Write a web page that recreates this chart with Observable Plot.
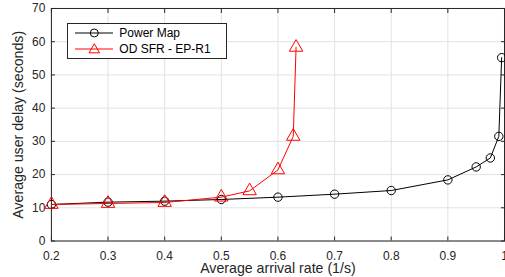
<!DOCTYPE html>
<html><head><meta charset="utf-8">
<script src="https://cdn.jsdelivr.net/npm/d3@7"></script>
<script src="https://cdn.jsdelivr.net/npm/@observablehq/plot@0.6"></script>
<style>
html,body{margin:0;padding:0;background:#fff;overflow:hidden;width:505px;height:277px}
#wrap{position:relative;width:505px;height:277px;overflow:hidden}
#legend{position:absolute;left:67px;top:23px;width:158px;height:34px;border:1px solid #262626;background:#fff;font-family:"Liberation Sans",Arial,sans-serif;font-size:12px;color:#000}
</style></head>
<body><div id="wrap"></div>
<script>
const xTicks = [0.2,0.3,0.4,0.5,0.6,0.7,0.8,0.9,1];
const yTicks = [0,10,20,30,40,50,60,70];
const seriesNames = ["Power Map","OD SFR - EP-R1"];
const powerX = [0.2,0.3,0.4,0.5,0.6,0.7,0.8,0.9,0.95,0.975,0.99,0.995];
const powerY = [11,11.7,12,12.5,13.2,14.1,15.2,18.4,22.3,25,31.5,55.2];
const odX = [0.2,0.3,0.4,0.5,0.55,0.6,0.627,0.632];
const odY = [11,11.3,11.6,13.2,15.1,21.4,31.5,58.3];
const xLabel = "Average arrival rate (1/s)";
const yLabel = "Average user delay (seconds)";

const power = powerX.map((x,i)=>({x, y: powerY[i]}));
const od = odX.map((x,i)=>({x, y: odY[i]}));
const font = '"Liberation Sans", Arial, sans-serif';
const ink = "#262626";

const chart = Plot.plot({
  width: 506, height: 277,
  marginLeft: 51, marginRight: 1, marginTop: 8, marginBottom: 36,
  style: {fontFamily: font, fontSize: "12px", color: ink, background: "#fff"},
  x: {domain: [0.2, 1], ticks: xTicks},
  y: {domain: [0, 70], ticks: yTicks},
  marks: [
    Plot.ruleX(xTicks, {stroke: "#e2e2e2", strokeWidth: 1}),
    Plot.ruleY(yTicks, {stroke: "#e2e2e2", strokeWidth: 1}),
    Plot.axisX(xTicks, {anchor: "bottom", tickSize: 0, tickPadding: 10, tickFormat: d => String(d), fontSize: 12, fill: ink, label: null}),
    Plot.axisX(xTicks, {anchor: "bottom", tickSize: -4, stroke: ink, tickFormat: () => "", label: null}),
    Plot.axisX(xTicks, {anchor: "top", tickSize: -4, stroke: ink, tickFormat: () => "", label: null}),
    Plot.axisY(yTicks, {anchor: "left", tickSize: 0, tickPadding: 6, fontSize: 12, fill: ink, label: null}),
    Plot.axisY(yTicks, {anchor: "left", tickSize: -4, stroke: ink, tickFormat: () => "", label: null}),
    Plot.axisY(yTicks, {anchor: "right", tickSize: -4, stroke: ink, tickFormat: () => "", label: null}),
    Plot.frame({stroke: ink, strokeWidth: 1}),
    Plot.line(power, {x: "x", y: "y", stroke: "#000", strokeWidth: 1}),
    Plot.dot(power, {x: "x", y: "y", r: 4.2, stroke: "#000", fill: "none", strokeWidth: 1}),
    Plot.line(od, {x: "x", y: "y", stroke: "#ff0000", strokeWidth: 1}),
    Plot.dot(od, {x: "x", y: "y", symbol: "triangle", r: 5, stroke: "#ff0000", fill: "none", strokeWidth: 1}),
    Plot.text([yLabel], {frameAnchor: "left", textAnchor: "middle", rotate: -90, dx: -33, fontSize: 14.2, fill: ink, text: d => d}),
    Plot.text([xLabel], {frameAnchor: "bottom", textAnchor: "middle", dy: 32, fontSize: 14.2, fill: ink, text: d => d})
  ]
});
const wrap = document.getElementById("wrap");
wrap.appendChild(chart);

const legend = document.createElement("div");
legend.id = "legend";
const colors = ["#000", "#ff0000"];
const symbols = ["circle", "triangle"];
seriesNames.forEach((name, i) => {
  const row = document.createElement("div");
  row.style.cssText = `position:absolute;left:0;top:${1.5 + i*16.5}px;height:14px;display:flex;align-items:center;white-space:nowrap`;
  const ns = "http://www.w3.org/2000/svg";
  const sw = document.createElementNS(ns, "svg");
  sw.setAttribute("width", "50"); sw.setAttribute("height", "14");
  sw.style.display = "block";
  const ln = document.createElementNS(ns, "line");
  ln.setAttribute("x1", "7"); ln.setAttribute("x2", "45"); ln.setAttribute("y1", "7"); ln.setAttribute("y2", "7");
  ln.setAttribute("stroke", colors[i]); ln.setAttribute("stroke-width", "1");
  sw.appendChild(ln);
  const sym = document.createElementNS(ns, "path");
  sym.setAttribute("d", d3.symbol(symbols[i] === "circle" ? d3.symbolCircle : d3.symbolTriangle, symbols[i] === "circle" ? 50 : 48)());
  sym.setAttribute("transform", symbols[i] === "circle" ? "translate(26.3,7)" : "translate(26.3,7.8)");
  sym.setAttribute("fill", "none"); sym.setAttribute("stroke", colors[i]);
  sw.appendChild(sym);
  row.appendChild(sw);
  const t = document.createElement("span");
  t.textContent = name;
  t.style.marginLeft = "1.3px";
  row.appendChild(t);
  legend.appendChild(row);
});
wrap.appendChild(legend);
</script>
</body></html>
